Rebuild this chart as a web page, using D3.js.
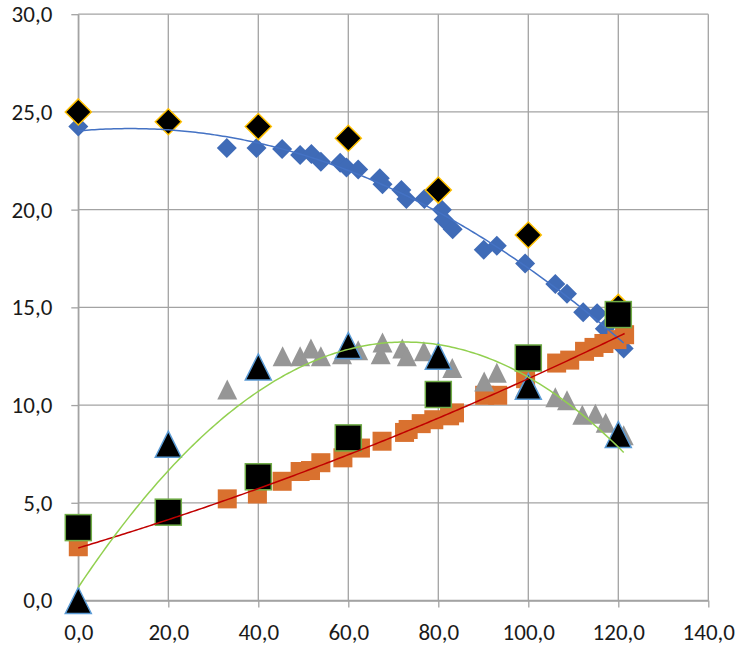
<!DOCTYPE html>
<html>
<head>
<meta charset="utf-8">
<script src="https://cdn.jsdelivr.net/npm/d3@7"></script>
<style>
  html, body { margin: 0; padding: 0; background: #fff; }
  svg { display: block; }
  .tick text { font-family: Carlito, Lato, "Liberation Sans", sans-serif; fill: #1a1a1a; }
</style>
</head>
<body>
<svg id="chart" width="741" height="649"></svg>
<script>
// Axis ticks
const xTicks = [0, 20, 40, 60, 80, 100, 120, 140];
const yTicks = [0, 5, 10, 15, 20, 25, 30];

// Measured series (blue diamonds)
const blueX = [0, 33.0, 39.6, 45.3, 49.3, 51.8, 53.9, 58.2, 59.6, 62.2, 67.0, 67.6, 71.8, 72.9, 76.9, 80.8, 81.2, 83.2, 90.1, 93.0, 99.3, 106.0, 108.6, 112.2, 115.3, 117.0, 121.2];
const blueY = [24.25, 23.15, 23.15, 23.1, 22.8, 22.85, 22.45, 22.4, 22.15, 22.05, 21.6, 21.3, 21.0, 20.55, 20.55, 20.0, 19.5, 19.0, 17.95, 18.15, 17.25, 16.2, 15.7, 14.75, 14.7, 13.9, 12.9];

// Measured series (orange squares)
const orangeX = [0, 33.1, 39.8, 45.3, 49.3, 51.6, 53.9, 58.8, 62.7, 67.5, 72.5, 73.3, 76.2, 79.0, 82.5, 83.6, 90.3, 93.2, 99.4, 106.3, 109.2, 112.5, 114.6, 116.8, 119.7, 121.4];
const orangeY = [2.75, 5.2, 5.45, 6.1, 6.6, 6.65, 7.05, 7.3, 7.8, 8.15, 8.6, 8.75, 9.05, 9.25, 9.45, 9.6, 10.5, 10.5, 11.35, 12.15, 12.3, 12.75, 12.95, 13.15, 13.35, 13.6];

// Measured series (grey triangles)
const greyX = [0, 33.1, 39.7, 45.4, 49.3, 51.7, 53.9, 58.6, 62.2, 67.2, 67.6, 72.0, 73.0, 76.8, 80.5, 83.1, 90.2, 93.0, 99.3, 106.0, 108.6, 112.0, 114.9, 117.2, 121.2];
const greyY = [0, 10.8, 11.9, 12.5, 12.5, 12.9, 12.5, 12.6, 12.8, 12.6, 13.2, 12.9, 12.5, 12.75, 12.3, 11.9, 11.2, 11.65, 10.9, 10.4, 10.25, 9.5, 9.55, 9.1, 8.45];

// Reference points every 20 units
const refX = [0, 20, 40, 60, 80, 100, 120];
const refDiamondY = [25.0, 24.5, 24.25, 23.65, 21.0, 18.7, 15.0];
const refSquareY = [3.73, 4.52, 6.33, 8.32, 10.54, 12.41, 14.63];
const refTriangleY = [0.0, 8.0, 11.95, 13.05, 12.5, 10.96, 8.5];

// Quadratic trend of the grey series: c0 + c1*x + c2*x^2
const greyTrendCoef = [0.674, 0.3461, -0.002386];

const svg = d3.select("#chart");
const x = d3.scaleLinear().domain([0, 140]).range([78.3, 708.3]);
const y = d3.scaleLinear().domain([0, 30]).range([600.5, 14.2]);
const fmt = v => d3.format(".1f")(v).replace(".", ",");
const gridColor = "#a3a3a3";

// Gridlines
const grid = svg.append("g");
grid.selectAll("line.h").data(yTicks).join("line")
  .attr("x1", x(0)).attr("x2", x(140))
  .attr("y1", d => y(d)).attr("y2", d => y(d))
  .attr("stroke", gridColor).attr("stroke-width", 1.3);
grid.selectAll("line.v").data(xTicks).join("line")
  .attr("x1", d => x(d)).attr("x2", d => x(d))
  .attr("y1", y(0)).attr("y2", y(30))
  .attr("stroke", gridColor).attr("stroke-width", 1.3);

// Axes
const xAxis = svg.append("g").attr("transform", `translate(0,${y(0)})`)
  .call(d3.axisBottom(x).tickValues(xTicks).tickFormat(fmt).tickSize(7).tickPadding(16).tickSizeOuter(0));
const yAxis = svg.append("g").attr("transform", `translate(${x(0)},0)`)
  .call(d3.axisLeft(y).tickValues(yTicks).tickFormat(fmt).tickSize(7).tickPadding(19).tickSizeOuter(0));
[xAxis, yAxis].forEach(g => {
  g.select(".domain").attr("stroke", gridColor).attr("stroke-width", 1.3);
  g.selectAll(".tick line").attr("stroke", gridColor).attr("stroke-width", 1.3);
  g.selectAll(".tick text").attr("font-size", 23);
});

// Marker helpers
const zip = (xs, ys) => xs.map((v, i) => [v, ys[i]]);
function diamonds(pts, r, fill, stroke, sw) {
  svg.append("g").selectAll("path").data(pts).join("path")
    .attr("d", d => { const cx = x(d[0]), cy = y(d[1]);
      return `M${cx},${cy - r}L${cx + r},${cy}L${cx},${cy + r}L${cx - r},${cy}Z`; })
    .attr("fill", fill).attr("stroke", stroke || "none").attr("stroke-width", sw || 0);
}
function squares(pts, s, fill, stroke, sw) {
  svg.append("g").selectAll("rect").data(pts).join("rect")
    .attr("x", d => x(d[0]) - s / 2).attr("y", d => y(d[1]) - s / 2)
    .attr("width", s).attr("height", s)
    .attr("fill", fill).attr("stroke", stroke || "none").attr("stroke-width", sw || 0);
}
function triangles(pts, s, fill, stroke, sw) {
  svg.append("g").selectAll("path").data(pts).join("path")
    .attr("d", d => { const cx = x(d[0]), cy = y(d[1]), h = s / 2;
      return `M${cx},${cy - h}L${cx + h},${cy + h}L${cx - h},${cy + h}Z`; })
    .attr("fill", fill).attr("stroke", stroke || "none").attr("stroke-width", sw || 0)
    .attr("stroke-linejoin", "miter");
}

// Least-squares polynomial fit (normal equations), returns coefficients
function polyFit(xs, ys, order) {
  const n = order + 1;
  const A = Array.from({length: n}, () => new Array(n + 1).fill(0));
  xs.forEach((xv, k) => {
    for (let i = 0; i < n; i++) {
      for (let j = 0; j < n; j++) A[i][j] += Math.pow(xv, i + j);
      A[i][n] += ys[k] * Math.pow(xv, i);
    }
  });
  for (let i = 0; i < n; i++) {
    let p = i;
    for (let r = i + 1; r < n; r++) if (Math.abs(A[r][i]) > Math.abs(A[p][i])) p = r;
    [A[i], A[p]] = [A[p], A[i]];
    for (let r = 0; r < n; r++) {
      if (r === i) continue;
      const f = A[r][i] / A[i][i];
      for (let c = i; c <= n; c++) A[r][c] -= f * A[i][c];
    }
  }
  return A.map((row, i) => row[n] / row[i]);
}
const poly = coef => v => coef.reduce((s, c, i) => s + c * Math.pow(v, i), 0);
function trend(xs, coef, color) {
  const f = poly(coef);
  const x0 = d3.min(xs), x1 = d3.max(xs);
  const pts = d3.range(0, 201).map(i => { const v = x0 + (x1 - x0) * i / 200; return [v, f(v)]; });
  svg.append("path").datum(pts)
    .attr("d", d3.line().x(d => x(d[0])).y(d => y(d[1])))
    .attr("fill", "none").attr("stroke", color).attr("stroke-width", 1.5);
}

// Series markers
diamonds(zip(blueX, blueY), 10, "#3f6bb7");
diamonds(zip(refX, refDiamondY), 13, "#000", "#ffc000", 1.5);
squares(zip(orangeX, orangeY), 19, "#d9712f");
squares(zip(refX, refSquareY), 26, "#000", "#70ad47", 1.5);
triangles(zip(greyX, greyY), 20, "#969696");
triangles(zip(refX, refTriangleY), 26, "#000", "#5b9bd5", 1.5);

// Trendlines
trend(blueX, polyFit(blueX, blueY, 2), "#4472c4");
trend(orangeX, polyFit(orangeX, orangeY, 2), "#c00000");
trend(greyX, greyTrendCoef, "#92d050");
</script>
</body>
</html>
